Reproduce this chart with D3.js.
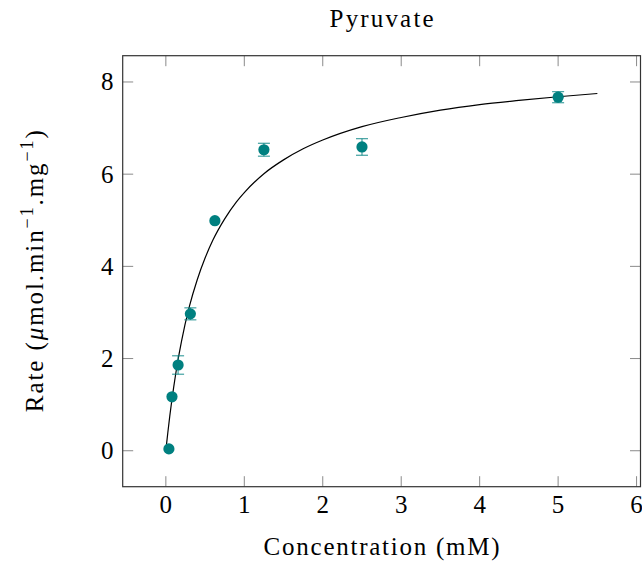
<!DOCTYPE html>
<html>
<head>
<meta charset="utf-8">
<script src="https://cdn.jsdelivr.net/npm/d3@7"></script>
<style>
  html, body { margin: 0; padding: 0; background: #fff; }
  svg { display: block; }
  text { font-family: "Liberation Serif", "Times New Roman", serif; fill: #000; }
</style>
</head>
<body>
<svg id="chart" width="642" height="565"></svg>
<script>
// ---- data ----
const concentrations = [0.039, 0.078, 0.156, 0.3125, 0.625, 1.25, 2.5, 5];
const rates          = [0.04, 1.17, 1.86, 2.97, 4.99, 6.53, 6.59, 7.67];
const rateErrors     = [0.0, 0.0, 0.2, 0.13, 0.0, 0.14, 0.18, 0.12];

// fitted curve
const curveX = [0, 0.01, 0.025, 0.05, 0.075, 0.1, 0.15, 0.2, 0.3, 0.4, 0.5, 0.6, 0.75, 0.9, 1.0, 1.25, 1.5, 1.75, 2, 2.5, 3, 3.5, 4, 4.5, 5, 5.5];
const curveY = [0, 0.16, 0.39, 0.75, 1.08, 1.38, 1.92, 2.38, 3.13, 3.71, 4.18, 4.57, 5.03, 5.40, 5.60, 6.01, 6.31, 6.55, 6.74, 7.03, 7.23, 7.39, 7.51, 7.60, 7.68, 7.75];

const xTicks = [0, 1, 2, 3, 4, 5, 6];
const yTicks = [0, 2, 4, 6, 8];
const titleText = "Pyruvate";
const xLabelText = "Concentration (mM)";

// ---- layout ----
const svg = d3.select("#chart");
const L = 122.7, R = 640.5, T = 55.7, B = 486.7;
const x = d3.scaleLinear().domain([-0.55, 6.05]).range([L, R]);
const y = d3.scaleLinear().domain([-0.78, 8.57]).range([B, T]);
const teal = "#008080";
const tickLen = 10.5;
const fs = 25;

// ticks (inside, mirrored on all sides)
const tickColor = "#8a8a8a";
const g = svg.append("g");
g.selectAll(".xtb").data(xTicks).join("line")
  .attr("x1", d => x(d)).attr("x2", d => x(d))
  .attr("y1", B).attr("y2", B - tickLen)
  .attr("stroke", tickColor).attr("stroke-width", 1);
g.selectAll(".xtt").data(xTicks).join("line")
  .attr("x1", d => x(d)).attr("x2", d => x(d))
  .attr("y1", T).attr("y2", T + tickLen)
  .attr("stroke", tickColor).attr("stroke-width", 1);
g.selectAll(".ytl").data(yTicks).join("line")
  .attr("x1", L).attr("x2", L + tickLen)
  .attr("y1", d => y(d)).attr("y2", d => y(d))
  .attr("stroke", tickColor).attr("stroke-width", 1);
g.selectAll(".ytr").data(yTicks).join("line")
  .attr("x1", R).attr("x2", R - tickLen)
  .attr("y1", d => y(d)).attr("y2", d => y(d))
  .attr("stroke", tickColor).attr("stroke-width", 1);

// frame
svg.append("rect")
  .attr("x", L).attr("y", T).attr("width", R - L).attr("height", B - T)
  .attr("fill", "none").attr("stroke", "#333").attr("stroke-width", 1.2);

// tick labels
svg.selectAll(".xl").data(xTicks).join("text")
  .attr("x", d => x(d)).attr("y", 512.5)
  .attr("text-anchor", "middle").attr("font-size", fs)
  .text(d => d);
svg.selectAll(".yl").data(yTicks).join("text")
  .attr("x", 113.5).attr("y", d => y(d) + 8.5)
  .attr("text-anchor", "end").attr("font-size", fs)
  .text(d => d);

// curve
const line = d3.line().x(d => x(d[0])).y(d => y(d[1])).curve(d3.curveMonotoneX);
svg.append("path")
  .datum(curveX.map((cx, i) => [cx, curveY[i]]))
  .attr("d", line)
  .attr("fill", "none").attr("stroke", "#000").attr("stroke-width", 1.2);

// error bars
const pts = concentrations.map((c, i) => ({c, r: rates[i], e: rateErrors[i]}));
const eb = svg.append("g").attr("stroke", teal).attr("stroke-opacity", 0.75).attr("stroke-width", 1.2);
pts.filter(p => p.e > 0).forEach(p => {
  eb.append("line").attr("x1", x(p.c)).attr("x2", x(p.c)).attr("y1", y(p.r - p.e)).attr("y2", y(p.r + p.e));
  [p.r - p.e, p.r + p.e].forEach(v => {
    eb.append("line").attr("x1", x(p.c) - 6).attr("x2", x(p.c) + 6).attr("y1", y(v)).attr("y2", y(v));
  });
});

// markers
svg.selectAll(".pt").data(pts).join("circle")
  .attr("cx", d => x(d.c)).attr("cy", d => y(d.r)).attr("r", 5.6)
  .attr("fill", teal);

// title
svg.append("text").attr("x", (L + R) / 2).attr("y", 27)
  .attr("text-anchor", "middle").attr("font-size", fs)
  .attr("textLength", 104).attr("lengthAdjust", "spacing")
  .text(titleText);

// x label
svg.append("text").attr("x", (L + R) / 2).attr("y", 555)
  .attr("text-anchor", "middle").attr("font-size", fs)
  .attr("textLength", 236).attr("lengthAdjust", "spacing")
  .text(xLabelText);

// y label
const yl = svg.append("text")
  .attr("transform", `translate(42.5, ${(T + B) / 2}) rotate(-90)`)
  .attr("text-anchor", "middle").attr("font-size", fs)
  .attr("textLength", 282).attr("lengthAdjust", "spacing");
yl.append("tspan").text("Rate (");
yl.append("tspan").attr("font-style", "italic").text("μ");
yl.append("tspan").text("mol.min");
yl.append("tspan").attr("font-size", 18).attr("dy", -10).text("−1");
yl.append("tspan").attr("dy", 10).text(".mg");
yl.append("tspan").attr("font-size", 18).attr("dy", -10).text("−1");
yl.append("tspan").attr("dy", 10).text(")");
</script>
</body>
</html>
